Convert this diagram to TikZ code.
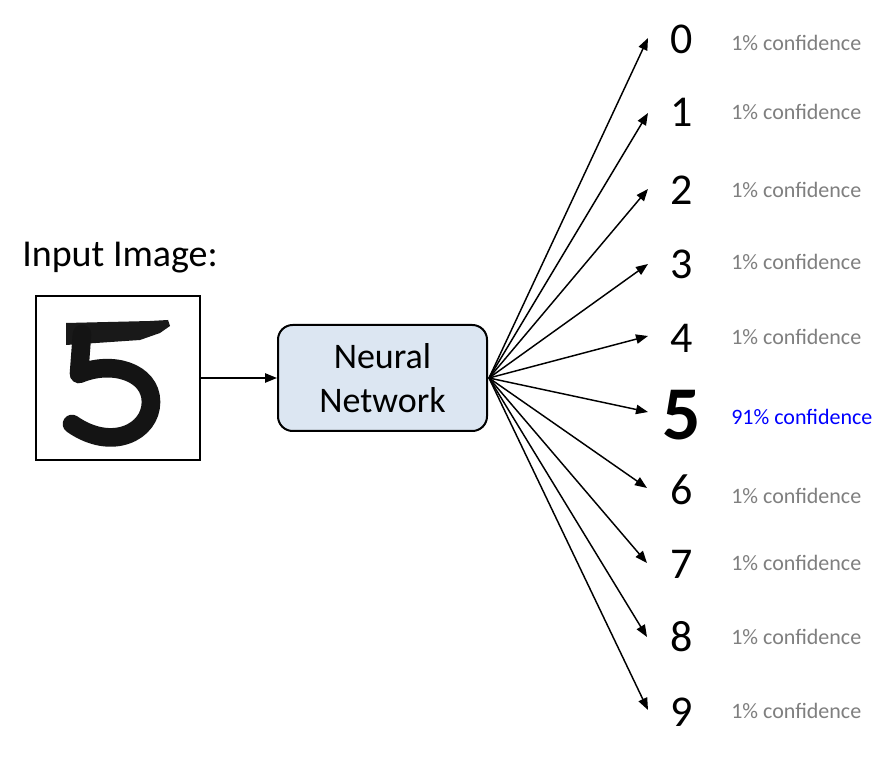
\documentclass[tikz,border=0pt]{standalone}
\usepackage{fontspec}
\setmainfont{Carlito}
\usetikzlibrary{arrows.meta}
\definecolor{nnfill}{HTML}{DCE6F2}
\definecolor{confgray}{HTML}{7F7F7F}
\definecolor{confblue}{HTML}{0000FF}
\tikzset{
  arr/.style={line width=1.1pt,-{Triangle[length=9pt,width=7pt]}},
  digit/.style={font=\fontsize{33}{39}\selectfont,inner sep=0pt},
  conf/.style={font=\fontsize{16.5}{19}\selectfont,text=confgray,anchor=west,inner sep=0pt},
  nnbox/.style={draw,line width=1.5pt,fill=nnfill,rounded corners=11pt,minimum width=156.75pt,minimum height=79.5pt,align=center,font=\fontsize{27}{33}\selectfont,inner sep=0pt},
  imgbox/.style={draw,line width=1.1pt,fill=white,minimum width=123pt,minimum height=123pt,inner sep=0pt}
}
\begin{document}
\begin{tikzpicture}[x=0.75pt,y=-0.75pt]
\useasboundingbox[fill=white] (0,0) rectangle (889,762);
\node[anchor=base west,inner sep=0pt,font=\fontsize{28.5}{34}\selectfont] (title) at (22,267) {Input Image:};
\node[imgbox] (img) at (118,378) {};
% handwritten 5
\fill[black!90] (66,323) -- (150,321) -- (168,320) -- (170,326) -- (160,333) -- (140,340) -- (96,343) -- (66,345) -- cycle;
\draw[line width=14pt,line cap=round,line join=round,black!92]
  (82,334) -- (79,374)
  .. controls (112,360) and (151,372) .. (151,402)
  .. controls (151,432) and (112,452) .. (72,424);
\node[nnbox] (nn) at (382.5,378) {Neural\\Network};
\draw[arr] (img.east) -- (nn.west);
\coordinate (o) at (489,378);
% digits
\node[digit] (d0) at (682,39) {0};
\node[digit] (d1) at (682,112) {1};
\node[digit] (d2) at (682,190) {2};
\node[digit] (d3) at (682,264) {3};
\node[digit] (d4) at (682,338) {4};
\node[font=\fontsize{57}{64}\bfseries\selectfont,inner sep=0pt] (d5) at (682,415) {5};
\node[digit] (d6) at (682,490) {6};
\node[digit] (d7) at (682,564) {7};
\node[digit] (d8) at (682,637) {8};
\node[digit] (d9) at (682,712) {9};
% tips
\coordinate (t0) at (648,38);
\coordinate (t1) at (648,113);
\coordinate (t2) at (648,189);
\coordinate (t3) at (648,264);
\coordinate (t4) at (648,336);
\coordinate (t5) at (648,412);
\coordinate (t6) at (647,488);
\coordinate (t7) at (647,563);
\coordinate (t8) at (647,637);
\coordinate (t9) at (648,710);
\foreach \i in {0,...,9}{\draw[arr] (o) -- (t\i);}
% confidences
\node[conf] (c0) at (731,43) {1\% confidence};
\node[conf] (c1) at (731,112) {1\% confidence};
\node[conf] (c2) at (731,190) {1\% confidence};
\node[conf] (c3) at (731,262) {1\% confidence};
\node[conf] (c4) at (731,337) {1\% confidence};
\node[conf,text=confblue] (c5) at (731,417) {91\% confidence};
\node[conf] (c6) at (731,496) {1\% confidence};
\node[conf] (c7) at (731,563) {1\% confidence};
\node[conf] (c8) at (731,637) {1\% confidence};
\node[conf] (c9) at (731,711) {1\% confidence};
\end{tikzpicture}
\end{document}
